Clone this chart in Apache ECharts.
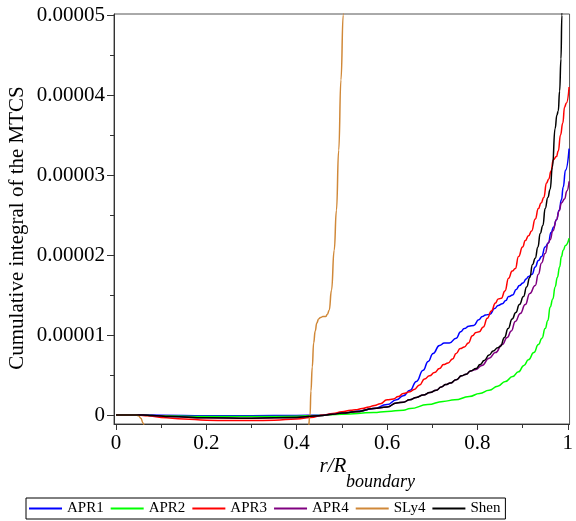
<!DOCTYPE html>
<html><head><meta charset="utf-8">
<script src="https://cdn.jsdelivr.net/npm/echarts@6/dist/echarts.min.js"></script>
<style>html,body{margin:0;padding:0;background:#fff}#c{width:576px;height:521px}</style>
</head><body><div id="c"></div>
<script>
// ---- data (x = r/R_boundary, y = cumulative integral) ----
const apr1X = [0,0.05,0.1,0.2,0.3,0.4,0.45,0.5,0.54,0.57,0.6,0.621,0.636,0.651,0.665,0.68,0.691,0.702,0.716,0.727,0.738,0.753,0.763,0.771,0.781,0.792,0.803,0.811,0.818,0.828,0.838,0.846,0.855,0.863,0.869,0.878,0.886,0.893,0.901,0.908,0.913,0.921,0.928,0.935,0.942,0.950,0.957,0.963,0.969,0.975,0.981,0.986,0.990,0.995,1.003];
const apr1Y = [0,0,-0.03e-6,-0.08e-6,-0.08e-6,-0.06e-6,-0.02e-6,0.02e-5,0.05e-5,0.08e-5,0.13e-5,0.19e-5,0.24e-5,0.31e-5,0.42e-5,0.56e-5,0.67e-5,0.77e-5,0.87e-5,0.90e-5,0.90e-5,0.96e-5,1.04e-5,1.08e-5,1.11e-5,1.12e-5,1.19e-5,1.23e-5,1.25e-5,1.26e-5,1.33e-5,1.37e-5,1.39e-5,1.43e-5,1.48e-5,1.50e-5,1.57e-5,1.62e-5,1.65e-5,1.70e-5,1.73e-5,1.76e-5,1.85e-5,1.93e-5,1.98e-5,2.10e-5,2.15e-5,2.28e-5,2.35e-5,2.44e-5,2.56e-5,2.69e-5,2.85e-5,3.06e-5,3.33e-5];

const apr2X = [0,0.05,0.1,0.2,0.3,0.4,0.45,0.5,0.57,0.6,0.636,0.651,0.69,0.724,0.75,0.782,0.805,0.826,0.845,0.862,0.878,0.891,0.903,0.913,0.925,0.935,0.943,0.950,0.956,0.961,0.967,0.972,0.977,0.982,0.986,0.990,0.995,1.003];
const apr2Y = [0,0,-0.1e-6,-0.2e-6,-0.2e-6,-0.15e-6,-0.05e-6,0.01e-5,0.03e-5,0.045e-5,0.06e-5,0.08e-5,0.13e-5,0.17e-5,0.19e-5,0.23e-5,0.27e-5,0.31e-5,0.36e-5,0.42e-5,0.48e-5,0.54e-5,0.62e-5,0.69e-5,0.78e-5,0.88e-5,0.96e-5,1.08e-5,1.18e-5,1.35e-5,1.45e-5,1.60e-5,1.72e-5,1.85e-5,1.98e-5,2.06e-5,2.12e-5,2.21e-5];

const apr3X = [0,0.05,0.07,0.1,0.15,0.2,0.25,0.3,0.35,0.4,0.43,0.46,0.48,0.5,0.52,0.53,0.545,0.56,0.572,0.585,0.6,0.614,0.625,0.636,0.651,0.66,0.672,0.683,0.694,0.705,0.716,0.725,0.735,0.745,0.753,0.762,0.771,0.780,0.789,0.797,0.804,0.813,0.822,0.831,0.840,0.846,0.853,0.861,0.869,0.877,0.884,0.891,0.900,0.906,0.913,0.920,0.928,0.935,0.941,0.947,0.953,0.958,0.963,0.968,0.975,0.979,0.984,0.989,0.993,0.997,1.003];
const apr3Y = [0,0,-0.1e-6,-0.3e-6,-0.5e-6,-0.65e-6,-0.7e-6,-0.7e-6,-0.65e-6,-0.5e-6,-0.3e-6,0,0.02e-5,0.04e-5,0.06e-5,0.065e-5,0.08e-5,0.10e-5,0.12e-5,0.14e-5,0.19e-5,0.20e-5,0.23e-5,0.27e-5,0.29e-5,0.32e-5,0.375e-5,0.45e-5,0.49e-5,0.53e-5,0.58e-5,0.63e-5,0.65e-5,0.70e-5,0.77e-5,0.83e-5,0.85e-5,0.90e-5,0.99e-5,1.03e-5,1.04e-5,1.10e-5,1.21e-5,1.30e-5,1.40e-5,1.45e-5,1.46e-5,1.55e-5,1.71e-5,1.80e-5,1.83e-5,1.98e-5,2.10e-5,2.18e-5,2.24e-5,2.30e-5,2.45e-5,2.58e-5,2.65e-5,2.72e-5,2.90e-5,2.95e-5,3.05e-5,3.19e-5,3.23e-5,3.30e-5,3.50e-5,3.65e-5,3.85e-5,3.90e-5,4.10e-5];

const apr4X = [0,0.06,0.08,0.12,0.2,0.3,0.4,0.45,0.48,0.5,0.53,0.57,0.6,0.621,0.636,0.65,0.665,0.68,0.695,0.709,0.72,0.73,0.74,0.753,0.765,0.775,0.785,0.797,0.81,0.826,0.84,0.855,0.866,0.875,0.884,0.895,0.906,0.916,0.928,0.935,0.942,0.95,0.957,0.961,0.967,0.975,0.981,0.986,0.993,0.998,1.003];
const apr4Y = [0,0,-0.05e-6,-0.2e-6,-0.35e-6,-0.4e-6,-0.3e-6,-0.1e-6,0.01e-5,0.025e-5,0.04e-5,0.08e-5,0.10e-5,0.15e-5,0.16e-5,0.19e-5,0.22e-5,0.25e-5,0.28e-5,0.31e-5,0.35e-5,0.38e-5,0.40e-5,0.44e-5,0.49e-5,0.51e-5,0.55e-5,0.57e-5,0.62e-5,0.71e-5,0.78e-5,0.88e-5,0.97e-5,1.05e-5,1.17e-5,1.27e-5,1.38e-5,1.52e-5,1.62e-5,1.76e-5,1.90e-5,2.02e-5,2.15e-5,2.19e-5,2.30e-5,2.44e-5,2.55e-5,2.65e-5,2.70e-5,2.80e-5,2.92e-5];

const sly4X = [0,0.045,0.05,0.055,0.06,0.065,0.075,0.415,0.425,0.4296,0.4315,0.4345,0.4375,0.441,0.4445,0.4485,0.453,0.458,0.464,0.468,0.472,0.477,0.483,0.488,0.493,0.498,0.503,0.508];
const sly4Y = [0,0,-0.1e-6,-0.4e-6,-1.0e-6,-2.0e-6,-4.0e-6,-4.0e-6,-2.0e-6,0,0.3e-5,0.6e-5,0.9e-5,1.05e-5,1.15e-5,1.2e-5,1.22e-5,1.23e-5,1.23e-5,1.26e-5,1.31e-5,1.56e-5,2.06e-5,2.56e-5,3.31e-5,4.19e-5,5.0e-5,5.8e-5];

const shenX = [0,0.06,0.08,0.12,0.2,0.3,0.4,0.45,0.48,0.5,0.53,0.57,0.6,0.621,0.636,0.65,0.665,0.68,0.695,0.709,0.72,0.73,0.74,0.753,0.765,0.775,0.785,0.797,0.806,0.815,0.826,0.835,0.845,0.851,0.860,0.868,0.877,0.885,0.893,0.902,0.909,0.916,0.922,0.928,0.934,0.939,0.945,0.950,0.956,0.961,0.966,0.972,0.976,0.979,0.982,0.985,0.987,0.990];
const shenY = [0,0,-0.05e-6,-0.2e-6,-0.35e-6,-0.4e-6,-0.3e-6,-0.1e-6,0.01e-5,0.025e-5,0.04e-5,0.08e-5,0.10e-5,0.15e-5,0.16e-5,0.19e-5,0.22e-5,0.25e-5,0.28e-5,0.31e-5,0.35e-5,0.38e-5,0.40e-5,0.44e-5,0.49e-5,0.51e-5,0.55e-5,0.58e-5,0.63e-5,0.68e-5,0.75e-5,0.80e-5,0.84e-5,0.86e-5,0.97e-5,1.08e-5,1.20e-5,1.28e-5,1.38e-5,1.48e-5,1.60e-5,1.72e-5,1.88e-5,1.96e-5,2.10e-5,2.27e-5,2.37e-5,2.58e-5,2.72e-5,2.82e-5,3.10e-5,3.58e-5,3.75e-5,3.80e-5,4.05e-5,4.45e-5,5.0e-5,5.6e-5];

const seriesNames = ['APR1','APR2','APR3','APR4','SLy4','Shen'];
const seriesColors = ['#0000ff','#00ff00','#ff0000','#800080','#d08838','#000000'];
const xLabelValues = [0,0.2,0.4,0.6,0.8,1];
const xMinorValues = [0.1,0.3,0.5,0.7,0.9];
const yLabelValues = [0,1e-5,2e-5,3e-5,4e-5,5e-5];
const yMinorValues = [0.5e-5,1.5e-5,2.5e-5,3.5e-5,4.5e-5];
const yLabelText = ['0','0.00001','0.00002','0.00003','0.00004','0.00005'];

const allX = [apr1X,apr2X,apr3X,apr4X,sly4X,shenX];
const allY = [apr1Y,apr2Y,apr3Y,apr4Y,sly4Y,shenY];

const FONT = "'Liberation Serif', 'Times New Roman', serif";
const X_MIN = -0.0044, X_MAX = 1.004, Y_MIN = -0.1125e-5, Y_MAX = 5.0125e-5;

const chart = echarts.init(document.getElementById('c'), null, {renderer:'canvas'});
const axisCol = '#333';

const series = seriesNames.map((n,i)=>({
  name:n, type:'line', xAxisIndex:0, yAxisIndex:0,
  data: allX[i].map((x,j)=>[x, allY[i][j]]),
  showSymbol:false, symbol:'none', smooth:0.5, smoothMonotone:'x',
  clip:true, z: i===5?5:3,
  lineStyle:{color:seriesColors[i], width:1.5},
  itemStyle:{color:seriesColors[i]}
}));

chart.setOption({
  animation:false,
  grid:{left:114, top:14, width:461, height:410, show:true, borderColor:'#555', borderWidth:1, backgroundColor:'transparent'},
  xAxis:[{
    type:'value', min:X_MIN, max:X_MAX,
    axisLine:{show:true, onZero:false, lineStyle:{color:axisCol, width:1}},
    axisTick:{show:true, inside:false, length:6, customValues:xLabelValues, lineStyle:{color:axisCol}},
    axisLabel:{show:true, customValues:xLabelValues, margin:9, color:'#000', fontFamily:FONT, fontSize:21,
      formatter:v=> (Math.abs(v)<1e-9?'0':(Math.abs(v-1)<1e-9?'1':v.toFixed(1)))},
    splitLine:{show:false}
  },{
    type:'value', min:X_MIN, max:X_MAX, position:'bottom', gridIndex:0,
    axisLine:{show:false, onZero:false},
    axisTick:{show:true, length:4, customValues:xMinorValues, lineStyle:{color:axisCol}},
    axisLabel:{show:false}, splitLine:{show:false}
  }],
  yAxis:[{
    type:'value', min:Y_MIN, max:Y_MAX,
    axisLine:{show:true, onZero:false, lineStyle:{color:axisCol, width:1}},
    axisTick:{show:true, length:7, customValues:yLabelValues, lineStyle:{color:axisCol}},
    axisLabel:{show:true, customValues:yLabelValues, margin:9, color:'#000', fontFamily:FONT, fontSize:21,
      formatter:v=>{const k=yLabelValues.findIndex(t=>Math.abs(t-v)<1e-9); return k>=0?yLabelText[k]:'';}},
    splitLine:{show:false}
  },{
    type:'value', min:Y_MIN, max:Y_MAX, position:'left',
    axisLine:{show:false, onZero:false},
    axisTick:{show:true, length:4, customValues:yMinorValues, lineStyle:{color:axisCol}},
    axisLabel:{show:false}, splitLine:{show:false}
  }],
  legend:{
    data:seriesNames, left:26, top:498, orient:'horizontal',
    icon:'rect', itemWidth:33, itemHeight:2, itemGap:7,
    borderColor:'#000', borderWidth:1, padding:[3,5,3,3],
    textStyle:{fontFamily:FONT, fontSize:15, color:'#000'}
  },
  graphic:[
    {type:'text', x:17.5, y:228, rotation:Math.PI/2,
     style:{text:'Cumulative integral of the MTCS', font:"21px 'Liberation Serif', serif", fill:'#000', align:'center', verticalAlign:'middle'}},
    {type:'text', x:333, y:466,
     style:{text:'r/R', font:"italic 21px 'Liberation Serif', serif", fill:'#000', align:'center', verticalAlign:'middle'}},
    {type:'text', x:346, y:482,
     style:{text:'boundary', font:"italic 18px 'Liberation Serif', serif", fill:'#000', align:'left', verticalAlign:'middle'}}
  ],
  series:series
});
</script></body></html>
